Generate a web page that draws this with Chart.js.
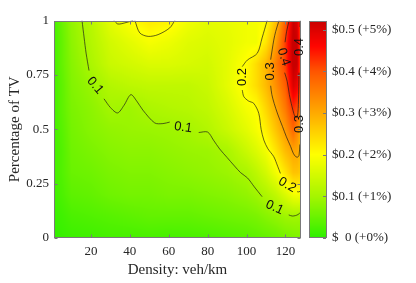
<!DOCTYPE html>
<html>
<head>
<meta charset="utf-8">
<script src="https://cdn.jsdelivr.net/npm/chart.js@4.4.1/dist/chart.umd.min.js"></script>
<style>
  html, body { margin: 0; padding: 0; background: #fff; }
</style>
</head>
<body>
<canvas id="myChart" width="416" height="283"></canvas>
<script>
// surface grid: columns are densities, rows are shares of TV (bottom to top)
const densities = [1, 5, 10, 20, 30, 40, 50, 60, 70, 80, 90, 100, 105, 110, 115, 120, 124, 126, 128];
const tvShares = [0, 0.1, 0.2, 0.3, 0.4, 0.5, 0.6, 0.7, 0.8, 0.9, 1];
const costRows = [
    [0.005, 0.008, 0.012, 0.015, 0.02, 0.02, 0.022, 0.02, 0.022, 0.025, 0.03, 0.035, 0.04, 0.045, 0.05, 0.06, 0.065, 0.068, 0.07],
    [0.01, 0.015, 0.025, 0.03, 0.035, 0.04, 0.045, 0.045, 0.045, 0.05, 0.055, 0.06, 0.065, 0.075, 0.085, 0.095, 0.098, 0.097, 0.095],
    [0.015, 0.025, 0.04, 0.045, 0.055, 0.06, 0.06, 0.065, 0.065, 0.07, 0.075, 0.085, 0.095, 0.11, 0.13, 0.16, 0.185, 0.19, 0.19],
    [0.02, 0.03, 0.05, 0.055, 0.065, 0.07, 0.07, 0.075, 0.08, 0.085, 0.092, 0.105, 0.125, 0.15, 0.185, 0.23, 0.27, 0.27, 0.26],
    [0.02, 0.03, 0.055, 0.065, 0.075, 0.08, 0.08, 0.085, 0.09, 0.093, 0.104, 0.14, 0.16, 0.185, 0.23, 0.28, 0.305, 0.305, 0.28],
    [0.02, 0.035, 0.06, 0.075, 0.085, 0.09, 0.092, 0.095, 0.101, 0.115, 0.14, 0.17, 0.19, 0.22, 0.27, 0.32, 0.38, 0.34, 0.29],
    [0.02, 0.04, 0.065, 0.08, 0.1, 0.095, 0.108, 0.115, 0.12, 0.13, 0.155, 0.19, 0.202, 0.25, 0.3, 0.36, 0.43, 0.41, 0.37],
    [0.02, 0.04, 0.07, 0.09, 0.115, 0.125, 0.13, 0.13, 0.13, 0.14, 0.17, 0.21, 0.24, 0.28, 0.33, 0.39, 0.5, 0.48, 0.39],
    [0.02, 0.045, 0.075, 0.107, 0.14, 0.15, 0.16, 0.16, 0.155, 0.15, 0.17, 0.203, 0.24, 0.285, 0.35, 0.42, 0.53, 0.52, 0.39],
    [0.02, 0.045, 0.08, 0.115, 0.15, 0.17, 0.19, 0.18, 0.165, 0.16, 0.17, 0.185, 0.185, 0.23, 0.31, 0.42, 0.53, 0.52, 0.39],
    [0.02, 0.05, 0.085, 0.12, 0.17, 0.2, 0.225, 0.215, 0.185, 0.17, 0.175, 0.185, 0.19, 0.2, 0.27, 0.39, 0.52, 0.5, 0.39]
];

const xTicks = [20, 40, 60, 80, 100, 120];
const yTicks = [0, 0.25, 0.5, 0.75, 1];
const yTickLabels = ["0", "0.25", "0.5", "0.75", "1"];
const barTicks = [0, 0.1, 0.2, 0.3, 0.4, 0.5];
const barTickLabels = ["$  0 (+0%)", "$0.1 (+1%)", "$0.2 (+2%)", "$0.3 (+3%)", "$0.4 (+4%)", "$0.5 (+5%)"];
const barMax = 0.522;

// contour lines (density, share); null = gap for a label
const level01 = [[15.4, 1], [16.5, 0.92], [17.5, 0.85], [19, 0.77], null,
    [26.7, 0.64], [30, 0.6], [33.7, 0.575], [37, 0.61], [40.5, 0.659], [43.5, 0.63], [46.7, 0.588],
    [52.8, 0.529], [57, 0.526], [60.5, 0.533], null,
    [75.4, 0.485], [80, 0.487], [83, 0.45], [86.2, 0.409], [90, 0.37], [93.8, 0.331], [97, 0.3],
    [100.5, 0.276], [104, 0.235], [108, 0.19], null,
    [121.7, 0.106], [123.5, 0.101], [125.1, 0.103], [126.5, 0.108], [128, 0.12]];
const level02 = [[31.9, 1], [33.8, 0.984], [37.4, 0.989], [41.7, 1], null,
    [42.6, 1], [45.1, 0.943], [49.4, 0.927], [54.5, 0.935], [60.5, 0.966], [63.1, 1], null,
    [110.6, 1], [108, 0.92], [105.5, 0.849], [100.4, 0.818], [97.8, 0.788], null,
    [97.8, 0.68], [98.6, 0.65], [101, 0.63], [103.7, 0.619], [106.3, 0.573], [107.5, 0.5], [108.9, 0.45],
    [111, 0.41], [114, 0.374], [116, 0.33], [117.4, 0.297], null,
    [126, 0.213], [127, 0.212], [128, 0.22]];
const level03 = [[116.7, 1], [115, 0.95], [114, 0.91], [112.4, 0.82], null,
    [112.4, 0.7], [113, 0.66], [114.2, 0.619], [116, 0.57], [118.5, 0.512], [120.5, 0.465], [122.7, 0.42],
    [124, 0.39], [125.3, 0.374], [126.3, 0.372], [127, 0.38], [127.4, 0.43], null,
    [127.7, 0.6], [128, 0.63]];
const level04 = [[121.9, 1], [120.6, 0.95], [119.8, 0.9], null,
    [119.6, 0.76], [120.9, 0.72], [122, 0.66], [122.6, 0.634], [124.3, 0.573], [125.3, 0.555],
    [126.2, 0.56], [126.7, 0.63], [127, 0.76], null,
    [127.5, 0.97], [127.6, 1]];

const labelTexts = ["0.1", "0.1", "0.1", "0.2", "0.2", "0.3", "0.3", "0.4", "0.4"];
const labelDensity = [22.1, 67.4, 114.4, 97.8, 120.9, 112.2, 127.3, 119.1, 127.4];
const labelShare = [0.701, 0.508, 0.14, 0.74, 0.244, 0.766, 0.524, 0.832, 0.878];

const serif = "'Liberation Serif', 'Times New Roman', serif";
const textColor = "#262626";
const frameColor = "#7a7a7a";

// green -> yellow -> red
const cmap = [[0, 45, 240, 0], [0.1, 165, 245, 0], [0.2, 255, 255, 0], [0.3, 255, 170, 0],
    [0.4, 255, 85, 0], [0.46, 255, 5, 0], [0.522, 200, 0, 0]];

function colorFor(v) {
    if (v <= cmap[0][0]) return cmap[0].slice(1);
    for (let i = 1; i < cmap.length; i++) {
        if (v <= cmap[i][0]) {
            let a = cmap[i - 1], b = cmap[i];
            let t = (v - a[0]) / (b[0] - a[0]);
            return [a[1] + (b[1] - a[1]) * t, a[2] + (b[2] - a[2]) * t, a[3] + (b[3] - a[3]) * t];
        }
    }
    return cmap[cmap.length - 1].slice(1);
}

function locate(arr, v) {
    if (v <= arr[0]) return [0, 0];
    for (let i = 1; i < arr.length; i++) {
        if (v <= arr[i]) return [i - 1, (v - arr[i - 1]) / (arr[i] - arr[i - 1])];
    }
    return [arr.length - 2, 1];
}

function costAt(d, s) {
    let [i, tx] = locate(densities, d);
    let [j, ty] = locate(tvShares, s);
    let a = costRows[j][i], b = costRows[j][i + 1];
    let c = costRows[j + 1][i], e = costRows[j + 1][i + 1];
    return (a * (1 - tx) + b * tx) * (1 - ty) + (c * (1 - tx) + e * tx) * ty;
}

function segments(level) {
    let out = [], cur = [];
    level.forEach(p => {
        if (p === null) { out.push(cur); cur = []; }
        else cur.push({x: p[0], y: p[1]});
    });
    out.push(cur);
    return out;
}

let datasets = [];
[level01, level02, level03, level04].forEach(level => {
    segments(level).forEach(seg => {
        datasets.push({
            data: seg,
            showLine: true,
            borderColor: "rgba(25,25,25,0.85)",
            borderWidth: 0.8,
            pointRadius: 0,
            tension: 0.3,
            fill: false
        });
    });
});

const surface = {
    id: "surface",
    beforeDatasetsDraw(chart) {
        let {ctx, chartArea: a, scales} = chart;
        let left = Math.round(a.left), top = Math.round(a.top);
        let w = Math.round(a.right) - left, h = Math.round(a.bottom) - top;
        let off = document.createElement("canvas");
        off.width = w; off.height = h;
        let octx = off.getContext("2d");
        let img = octx.createImageData(w, h);
        for (let j = 0; j < h; j++) {
            let s = scales.y.getValueForPixel(top + j + 0.5);
            for (let i = 0; i < w; i++) {
                let d = scales.x.getValueForPixel(left + i + 0.5);
                let c = colorFor(costAt(d, s));
                let k = (j * w + i) * 4;
                img.data[k] = c[0]; img.data[k + 1] = c[1]; img.data[k + 2] = c[2]; img.data[k + 3] = 255;
            }
        }
        octx.putImageData(img, 0, 0);
        ctx.drawImage(off, left, top);

        // colour bar
        let bar = scales.bar;
        let bx = a.right + 8, bw = 18;
        let y0 = Math.round(bar.getPixelForValue(barMax)), y1 = Math.round(bar.getPixelForValue(0));
        for (let py = y0; py < y1; py++) {
            let c = colorFor(bar.getValueForPixel(py + 0.5));
            ctx.fillStyle = "rgb(" + c.map(Math.round).join(",") + ")";
            ctx.fillRect(bx, py, bw, 1);
        }
        ctx.save();
        ctx.strokeStyle = frameColor;
        ctx.lineWidth = 1;
        ctx.strokeRect(bx + 0.5, y0 + 0.5, bw - 1, y1 - y0 - 1);
        ctx.beginPath();
        barTicks.forEach(v => {
            let py = Math.round(bar.getPixelForValue(v)) + 0.5;
            ctx.moveTo(bx + bw - 1, py); ctx.lineTo(bx + bw - 4, py);
        });
        ctx.stroke();
        ctx.restore();
    },
    afterDatasetsDraw(chart) {
        let {ctx, chartArea: a, scales} = chart;
        ctx.save();
        // frame with inward ticks on all sides
        ctx.strokeStyle = frameColor;
        ctx.lineWidth = 1;
        let l = Math.round(a.left) + 0.5, r = Math.round(a.right) - 0.5;
        let t = Math.round(a.top) + 0.5, b = Math.round(a.bottom) - 0.5;
        ctx.strokeRect(l, t, r - l, b - t);
        ctx.beginPath();
        xTicks.forEach(v => {
            let px = Math.round(scales.x.getPixelForValue(v)) + 0.5;
            ctx.moveTo(px, b); ctx.lineTo(px, b - 3);
            ctx.moveTo(px, t); ctx.lineTo(px, t + 3);
        });
        yTicks.forEach(v => {
            let py = Math.round(scales.y.getPixelForValue(v)) + 0.5;
            ctx.moveTo(l, py); ctx.lineTo(l + 3, py);
            ctx.moveTo(r, py); ctx.lineTo(r - 3, py);
        });
        ctx.stroke();

        // contour labels
        const angles = [50, 8, 25, -90, 30, -90, -90, 72, -90];
        ctx.fillStyle = "#111";
        ctx.font = "13px 'Liberation Sans', Arial, sans-serif";
        ctx.textAlign = "center";
        ctx.textBaseline = "middle";
        labelTexts.forEach((txt, i) => {
            ctx.save();
            ctx.translate(scales.x.getPixelForValue(labelDensity[i]), scales.y.getPixelForValue(labelShare[i]));
            ctx.rotate(angles[i] * Math.PI / 180);
            ctx.fillText(txt, 0, 0);
            ctx.restore();
        });
        ctx.restore();
    }
};

new Chart("myChart", {
    type: "scatter",
    data: { datasets: datasets },
    options: {
        responsive: false,
        devicePixelRatio: 1,
        animation: false,
        layout: { padding: { top: 20.5, left: 0, right: 0, bottom: 0 } },
        plugins: { legend: { display: false }, tooltip: { enabled: false } },
        scales: {
            x: {
                type: "linear",
                min: 1,
                max: 128,
                afterBuildTicks: s => { s.ticks = xTicks.map(v => ({value: v})); },
                afterFit: s => { s.height = 45; },
                grid: { display: false, drawTicks: false },
                border: { display: false },
                ticks: { color: textColor, padding: 6, font: { family: serif, size: 13 } },
                title: { display: true, text: "Density: veh/km", color: textColor,
                    font: { family: serif, size: 15 }, padding: { top: 0, bottom: 4 } }
            },
            y: {
                type: "linear",
                min: 0,
                max: 1,
                afterBuildTicks: s => { s.ticks = yTicks.map(v => ({value: v})); },
                afterFit: s => { s.width = 54; s.paddingTop = 0; s.paddingBottom = 0; },
                grid: { display: false, drawTicks: false },
                border: { display: false },
                ticks: { color: textColor, padding: 5, font: { family: serif, size: 13 },
                    callback: (v, i) => yTickLabels[i] },
                title: { display: true, text: "Percentage of TV", color: textColor,
                    font: { family: serif, size: 15 }, padding: { top: 6, bottom: 0 } }
            },
            bar: {
                type: "linear",
                position: "right",
                min: 0,
                max: barMax,
                afterBuildTicks: s => { s.ticks = barTicks.map(v => ({value: v})); },
                afterFit: s => { s.width = 115; s.paddingTop = 0; s.paddingBottom = 0; },
                grid: { display: false, drawTicks: false },
                border: { display: false },
                ticks: { color: textColor, padding: 31, font: { family: serif, size: 13 },
                    callback: (v, i) => barTickLabels[i] }
            }
        }
    },
    plugins: [surface]
});
</script>
</body>
</html>
